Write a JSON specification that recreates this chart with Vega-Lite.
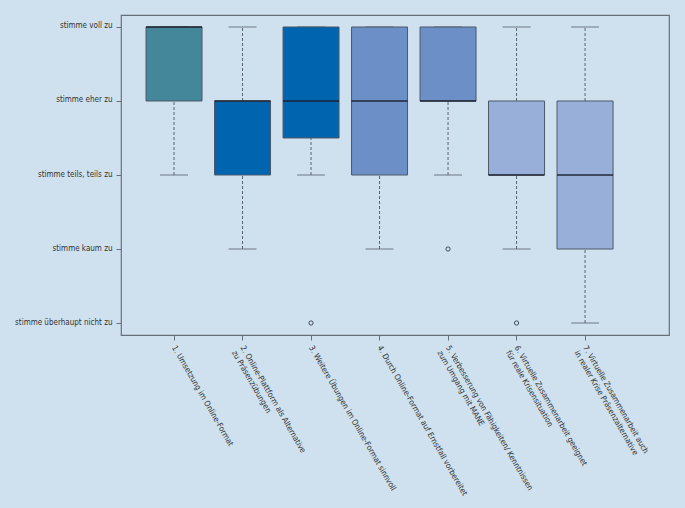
{
  "$schema": "https://vega.github.io/schema/vega-lite/v6.json",
  "width": 548,
  "height": 320,
  "autosize": {"type": "none"},
  "padding": {"left": 121, "top": 15, "right": 16, "bottom": 173},
  "background": "#cfe1ee",
  "config": {
    "view": {"stroke": "#66707a", "strokeWidth": 1.2},
    "font": "DejaVu Sans Condensed, Liberation Sans, sans-serif",
    "axis": {"labelFont": "DejaVu Sans Condensed, Liberation Sans, sans-serif", "labelColor": "#333333", "labelFontSize": 8, "domain": false, "grid": false, "tickColor": "#66707a", "tickSize": 5, "title": null}
  },
  "datasets": {
    "boxes": [
      {"item": "1. Umsetzung im Online-Format", "lower": 3, "q1": 4, "median": 5, "q3": 5, "upper": 5},
      {"item": "2. Online-Plattform als Alternative|zu Präsenzübungen", "lower": 2, "q1": 3, "median": 4, "q3": 4, "upper": 5},
      {"item": "3. Weitere Übungen im Online-Format sinnvoll", "lower": 3, "q1": 3.5, "median": 4, "q3": 5, "upper": 5},
      {"item": "4. Durch Online-Format auf Ernstfall vorbereitet", "lower": 2, "q1": 3, "median": 4, "q3": 5, "upper": 5},
      {"item": "5. Verbesserung von Fähigkeiten/ Kenntnissen|zum Umgang mit MANE", "lower": 3, "q1": 4, "median": 4, "q3": 5, "upper": 5},
      {"item": "6. Virtuelle Zusammenarbeit geeignet|für reale Krisensituation", "lower": 2, "q1": 3, "median": 3, "q3": 4, "upper": 5},
      {"item": "7. Virtuelle Zusammenarbeit auch|in realer Krise Präsenzalternative", "lower": 1, "q1": 2, "median": 3, "q3": 4, "upper": 5}
    ],
    "outliers": [
      {"item": "3. Weitere Übungen im Online-Format sinnvoll", "value": 1},
      {"item": "5. Verbesserung von Fähigkeiten/ Kenntnissen|zum Umgang mit MANE", "value": 2},
      {"item": "6. Virtuelle Zusammenarbeit geeignet|für reale Krisensituation", "value": 1}
    ]
  },
  "encoding": {
    "x": {
      "field": "item",
      "type": "nominal",
      "sort": null,
      "scale": {
        "domain": [
          "1. Umsetzung im Online-Format",
          "2. Online-Plattform als Alternative|zu Präsenzübungen",
          "3. Weitere Übungen im Online-Format sinnvoll",
          "4. Durch Online-Format auf Ernstfall vorbereitet",
          "5. Verbesserung von Fähigkeiten/ Kenntnissen|zum Umgang mit MANE",
          "6. Virtuelle Zusammenarbeit geeignet|für reale Krisensituation",
          "7. Virtuelle Zusammenarbeit auch|in realer Krise Präsenzalternative"
        ],
        "paddingInner": 0.1825,
        "paddingOuter": 0.591,
        "align": 0.309
      },
      "axis": {
        "labelExpr": "split(datum.label, '|')",
        "labelAngle": 60,
        "labelAlign": "left",
        "labelBaseline": "top",
        "labelOffset": 3,
        "labelPadding": 4,
        "labelLimit": 400,
        "labelLineHeight": 10
      }
    }
  },
  "layer": [
    {
      "data": {"name": "boxes"},
      "mark": {"type": "rule", "color": "#5a6470", "strokeDash": [3, 2], "strokeWidth": 1},
      "encoding": {
        "y": {
          "field": "lower",
          "type": "quantitative",
          "scale": {"domain": [0.838, 5.162], "nice": false, "zero": false},
          "axis": {
            "values": [1, 2, 3, 4, 5],
            "labelExpr": "datum.value == 5 ? 'stimme voll zu' : datum.value == 4 ? 'stimme eher zu' : datum.value == 3 ? 'stimme teils, teils zu' : datum.value == 2 ? 'stimme kaum zu' : 'stimme überhaupt nicht zu'",
            "labelPadding": 4,
            "labelBaseline": "bottom",
            "labelOffset": 3
          }
        },
        "y2": {"field": "q1"}
      }
    },
    {
      "data": {"name": "boxes"},
      "mark": {"type": "rule", "color": "#5a6470", "strokeDash": [3, 2], "strokeWidth": 1},
      "encoding": {
        "y": {"field": "q3", "type": "quantitative"},
        "y2": {"field": "upper"}
      }
    },
    {
      "data": {"name": "boxes"},
      "mark": {"type": "tick", "color": "#5a6470", "size": 28, "thickness": 1.2, "orient": "horizontal"},
      "encoding": {"y": {"field": "lower", "type": "quantitative"}}
    },
    {
      "data": {"name": "boxes"},
      "mark": {"type": "tick", "color": "#5a6470", "size": 28, "thickness": 1.2, "orient": "horizontal"},
      "encoding": {"y": {"field": "upper", "type": "quantitative"}}
    },
    {
      "data": {"name": "boxes"},
      "mark": {"type": "bar", "stroke": "#4d5868", "strokeWidth": 1, "opacity": 1},
      "encoding": {
        "y": {"field": "q1", "type": "quantitative"},
        "y2": {"field": "q3"},
        "color": {
          "field": "item",
          "type": "nominal",
          "sort": null,
          "legend": null,
          "scale": {
            "domain": [
              "1. Umsetzung im Online-Format",
              "2. Online-Plattform als Alternative|zu Präsenzübungen",
              "3. Weitere Übungen im Online-Format sinnvoll",
              "4. Durch Online-Format auf Ernstfall vorbereitet",
              "5. Verbesserung von Fähigkeiten/ Kenntnissen|zum Umgang mit MANE",
              "6. Virtuelle Zusammenarbeit geeignet|für reale Krisensituation",
              "7. Virtuelle Zusammenarbeit auch|in realer Krise Präsenzalternative"
            ],
            "range": ["#45879a", "#0064ae", "#0064ae", "#6b8fc6", "#6b8fc6", "#98b0d9", "#98b0d9"]
          }
        }
      }
    },
    {
      "data": {"name": "boxes"},
      "mark": {"type": "tick", "color": "#1a1f2e", "size": 56, "thickness": 2.2, "orient": "horizontal"},
      "encoding": {"y": {"field": "median", "type": "quantitative"}}
    },
    {
      "data": {"name": "outliers"},
      "mark": {"type": "point", "shape": "circle", "filled": false, "size": 18, "color": "#444c58", "strokeWidth": 1, "opacity": 1},
      "encoding": {"y": {"field": "value", "type": "quantitative"}}
    }
  ]
}
